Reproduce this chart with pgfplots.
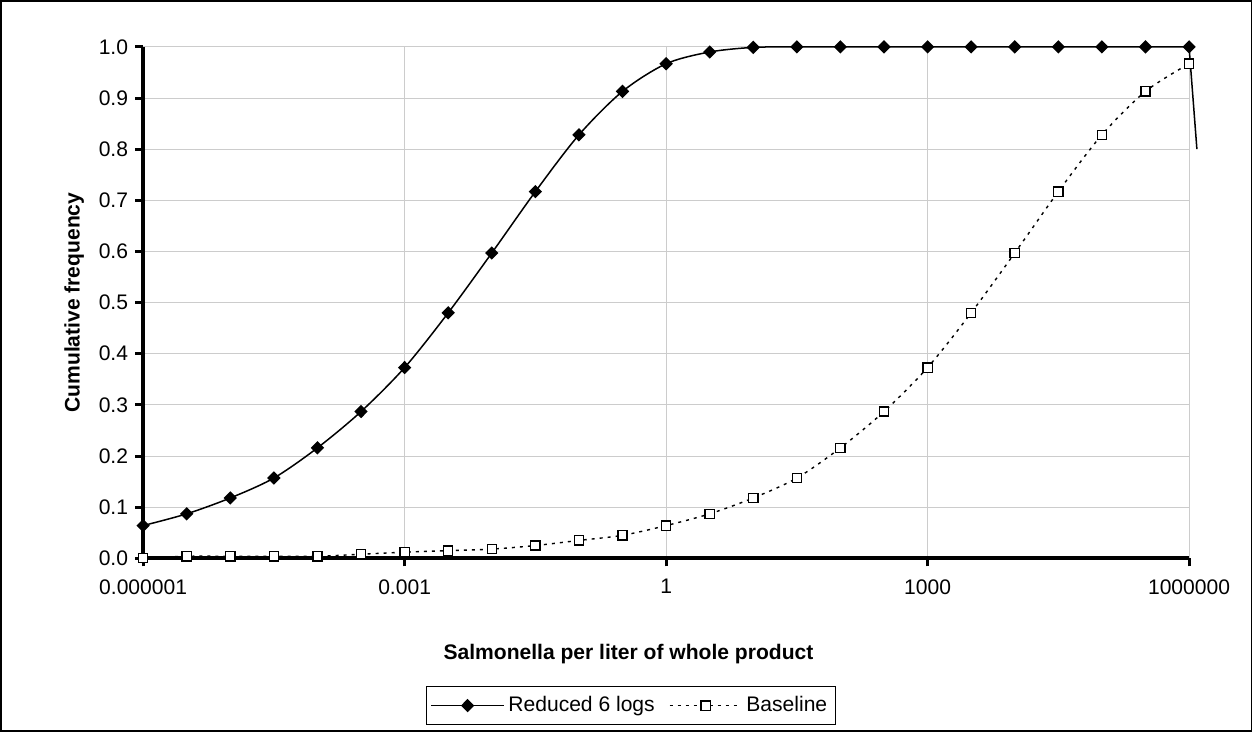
\documentclass[border=0pt]{standalone}
\usepackage{fontspec}
\setmainfont{Liberation Sans}
\usepackage{pgfplots}
\usepackage{pgfplotstable}
\pgfplotsset{compat=1.18}
\pgfplotstableread{
x y
1e-6 0.064
3.1623e-6 0.087
1e-5 0.118
3.1623e-5 0.157
1e-4 0.216
3.1623e-4 0.287
1e-3 0.373
3.1623e-3 0.480
1e-2 0.597
3.1623e-2 0.717
1e-1 0.828
3.1623e-1 0.913
1 0.967
3.1623 0.990
10 0.999
31.623 1.0
100 1.0
316.23 1.0
1000 1.0
3162.3 1.0
1e4 1.0
31623 1.0
1e5 1.0
316230 1.0
1e6 1.0
}\reduced
\pgfplotstableread{
x y
1e-6 0.001
3.1623e-6 0.004
1e-5 0.004
3.1623e-5 0.004
1e-4 0.004
3.1623e-4 0.008
1e-3 0.012
3.1623e-3 0.015
1e-2 0.018
3.1623e-2 0.025
1e-1 0.035
3.1623e-1 0.045
1 0.064
3.1623 0.087
10 0.118
31.623 0.157
100 0.216
316.23 0.287
1000 0.373
3162.3 0.480
1e4 0.597
31623 0.717
1e5 0.828
316230 0.913
1e6 0.967
}\baseline
\begin{document}
\begin{tikzpicture}
\begin{axis}[
  at={(0,0)}, anchor=south west,
  scale only axis, width=521.5pt, height=255pt,
  xmode=log, log basis x=10,
  xmin=1e-6, xmax=1e6, ymin=0, ymax=1,
  xtick={1e-6,1e-3,1,1e3,1e6},
  xticklabels={0.000001,0.001,1,1000,1000000},
  ytick={0,0.1,0.2,0.3,0.4,0.5,0.6,0.7,0.8,0.9,1.0},
  yticklabels={0.0,0.1,0.2,0.3,0.4,0.5,0.6,0.7,0.8,0.9,1.0},
  xminorticks=false, yminorticks=false,
  grid=major, major grid style={line width=0.5pt, color=black!20},
  axis x line*=bottom, axis y line*=left,
  axis line style={line width=2pt, -},
  tick align=outside, major tick length=4pt,
  tick style={line width=1.5pt, black},
  ticklabel style={font=\fontsize{10.5}{12}\selectfont},
  xticklabel style={yshift=-3pt},
  clip=false,
  xlabel={Salmonella per liter of whole product},
  xlabel style={font=\bfseries\fontsize{10.5}{12}\selectfont, at={(axis description cs:0.464,-0.188)}, anchor=center},
  ylabel={Cumulative frequency},
  ylabel style={font=\bfseries\fontsize{10.5}{12}\selectfont, at={(axis description cs:-0.066,0.5)}, anchor=center},
  legend columns=2,
  legend style={at={(axis description cs:0.4664,-0.288)}, anchor=center, draw=black, line width=0.5pt,
    font=\fontsize{10.5}{12}\selectfont, inner xsep=2pt, inner ysep=3pt,
    /tikz/every even column/.append style={column sep=5pt}},
  legend image code/.code={\draw[mark repeat=2,mark phase=2,#1] plot coordinates {(0pt,0pt) (18pt,0pt) (36pt,0pt)};},
]
\addplot[black, line width=0.75pt, smooth, tension=0.5, mark=diamond*, mark size=2.8pt,
  mark options={solid, fill=black, xscale=1.33}] table[x=x,y=y] {\reduced};
\addlegendentry{Reduced 6 logs}
\addplot[black, line width=0.7pt, smooth, tension=0.5, dash pattern=on 1.5pt off 2.5pt, mark=square*, mark size=2.3pt,
  mark options={solid, fill=white, line width=0.65pt}] table[x=x,y=y] {\baseline};
\addlegendentry{Baseline}
\addplot[black, line width=0.75pt, forget plot] coordinates {(1e6,1) (1.23e6,0.80)};
\end{axis}
\draw[line width=0.75pt] (-71pt,-86pt) rectangle (552.5pt,278pt);
\end{tikzpicture}
\end{document}
